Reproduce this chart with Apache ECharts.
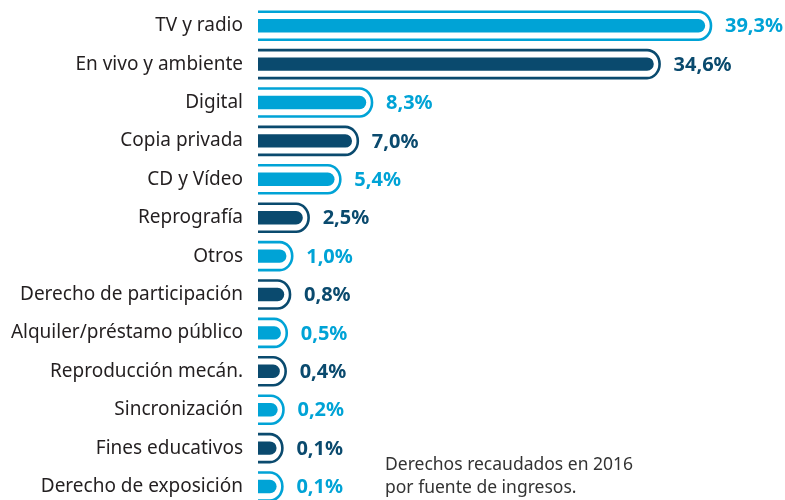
<!DOCTYPE html>
<html>
<head>
<meta charset="utf-8">
<script src="https://cdn.jsdelivr.net/npm/echarts@6/dist/echarts.min.js"></script>
<style>
  html, body { margin: 0; padding: 0; background: #ffffff; }
  #chart { width: 785px; height: 500px; }
</style>
</head>
<body>
<div id="chart"></div>
<script>
// Revenue sources, share of total collections (%)
const categories = [
  'TV y radio', 'En vivo y ambiente', 'Digital', 'Copia privada', 'CD y Vídeo',
  'Reprografía', 'Otros', 'Derecho de participación', 'Alquiler/préstamo público',
  'Reproducción mecán.', 'Sincronización', 'Fines educativos', 'Derecho de exposición'
];
const shares = [39.3, 34.6, 8.3, 7.0, 5.4, 2.5, 1.0, 0.8, 0.5, 0.4, 0.2, 0.1, 0.1];
const palette = ['#00a3d6', '#0a4a6e'];
const footnote = ['Derechos recaudados en 2016', 'por fuente de ingresos.'];

// Value axis extent: bars grow from the left edge of the plot (axis min)
const AXIS_MIN = -1.6;
const AXIS_MAX = 46.6;

const fmt = v => v.toFixed(1).replace('.', ',') + '%';

const chart = echarts.init(document.getElementById('chart'), null, { renderer: 'canvas' });

function renderBar(params, api) {
  const idx = api.value(1);
  const v = api.value(0);
  const base = api.coord([AXIS_MIN, idx]);
  const tip = api.coord([v, idx]);
  const color = palette[idx % 2];
  const cy = base[1];
  const x0 = base[0];
  const x1 = tip[0];
  const h = 13.4;              // inner bar thickness
  const r = h / 2;
  const ry = 14;               // outline half-height (stroke centre)
  const rx = 12.5;             // outline cap reach beyond the inner cap centre
  const cx = x1 - r;           // centre of the rounded cap
  const outline =
    'M ' + x0 + ' ' + (cy - ry) +
    ' L ' + cx + ' ' + (cy - ry) +
    ' A ' + rx + ' ' + ry + ' 0 0 1 ' + cx + ' ' + (cy + ry) +
    ' L ' + x0 + ' ' + (cy + ry);
  return {
    type: 'group',
    children: [
      {
        type: 'rect',
        shape: { x: x0, y: cy - r, width: x1 - x0, height: h, r: [0, r, r, 0] },
        style: { fill: color }
      },
      {
        type: 'path',
        shape: { pathData: outline },
        style: { fill: null, stroke: color, lineWidth: 2.6 }
      },
      {
        type: 'text',
        x: cx + rx + 14,
        y: cy + 1,
        style: {
          text: fmt(v),
          fill: color,
          font: 'bold 20px "Noto Sans", sans-serif',
          align: 'left',
          verticalAlign: 'middle'
        }
      }
    ]
  };
}

chart.setOption({
  animation: false,
  grid: { left: 258, right: 0, top: 25.7, bottom: 13.5 },
  xAxis: {
    type: 'value',
    min: AXIS_MIN,
    max: AXIS_MAX,
    show: false
  },
  yAxis: {
    type: 'category',
    data: categories,
    inverse: true,
    boundaryGap: false,
    axisLine: { show: false },
    axisTick: { show: false },
    splitLine: { show: false },
    axisLabel: {
      margin: 15,
      color: '#231f20',
      fontSize: 19,
      fontFamily: '"Noto Sans", sans-serif'
    }
  },
  series: [{
    type: 'custom',
    clip: false,
    encode: { x: 0, y: 1 },
    data: shares.map((v, i) => [v, i]),
    renderItem: renderBar
  }],
  graphic: [{
    type: 'text',
    left: 385,
    top: 454,
    style: {
      text: footnote.join('\n'),
      fill: '#333333',
      font: '17.5px "Noto Sans", sans-serif',
      lineHeight: 23
    }
  }]
});
</script>
</body>
</html>
